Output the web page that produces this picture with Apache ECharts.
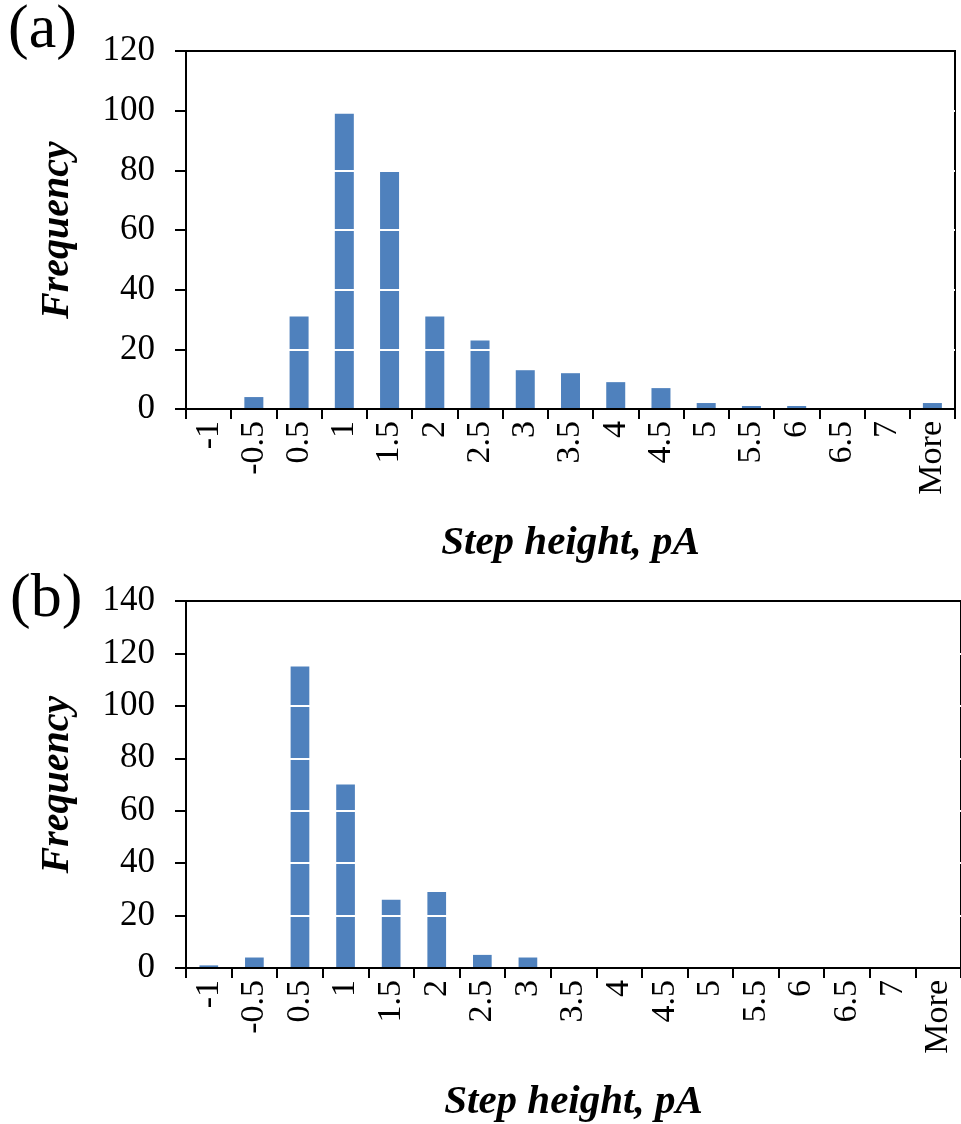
<!DOCTYPE html>
<html>
<head>
<meta charset="utf-8">
<script src="https://cdn.jsdelivr.net/npm/echarts@6/dist/echarts.min.js"></script>
<style>
html,body{margin:0;padding:0;background:#fff;}
#chart{width:961px;height:1124px;}
</style>
</head>
<body>
<div id="chart"></div>
<script>
// ---- data ----
const categories = ['-1','-0.5','0.5','1','1.5','2','2.5','3','3.5','4','4.5','5','5.5','6','6.5','7','More'];
const freqA = [0,4,31,99,80,31,23,13,12,9,7,2,1,1,0,0,2];
const freqB = [1,4,115,70,26,29,5,4,0,0,0,0,0,0,0,0,0];
const yMaxA = 120, yMaxB = 140, yStep = 20;
const panelLabels = ['(a)','(b)'];
const xTitle = 'Step height, pA';
const yTitle = 'Frequency';

const FONT = '"Liberation Serif","Times New Roman",serif';
const BLUE = '#4F81BD';

function xAxisCfg(gridIndex){
  return {
    type:'category', gridIndex, data:categories, boundaryGap:true, z:4,
    axisLine:{lineStyle:{color:'#000',width:2}},
    axisTick:{show:true,interval:0,length:10,lineStyle:{color:'#000',width:2}},
    axisLabel:{interval:0,rotate:90,margin:12,color:'#000',fontFamily:FONT,fontSize:34},
    name:xTitle, nameLocation:'middle', nameGap:114,
    nameTextStyle:{fontFamily:FONT,fontSize:41,fontWeight:'bold',fontStyle:'italic',color:'#000'}
  };
}
function yAxisCfg(gridIndex,max){
  return {
    type:'value', gridIndex, min:0, max, interval:yStep, z:3,
    axisLine:{show:true,lineStyle:{color:'#000',width:2}},
    axisTick:{show:true,length:11,lineStyle:{color:'#000',width:2}},
    axisLabel:{margin:31,color:'#000',fontFamily:FONT,fontSize:35},
    splitLine:{show:true,showMinLine:false,showMaxLine:false,lineStyle:{color:'#fff',width:2}},
    name:yTitle, nameLocation:'middle', nameGap:108,
    nameTextStyle:{fontFamily:FONT,fontSize:40,fontWeight:'bold',fontStyle:'italic',color:'#000'}
  };
}

const chart = echarts.init(document.getElementById('chart'), null, {renderer:'canvas'});
chart.setOption({
  backgroundColor:'#fff',
  animation:false,
  grid:[
    {left:186, top:51, width:769, height:358, show:true, borderColor:'#000', borderWidth:2, backgroundColor:'transparent'},
    {left:186, top:601, width:783, height:371, show:true, borderColor:'#000', borderWidth:2, backgroundColor:'transparent'}
  ],
  xAxis:[xAxisCfg(0), xAxisCfg(1)],
  yAxis:[yAxisCfg(0,yMaxA), yAxisCfg(1,yMaxB)],
  graphic:[
    {type:'text', left:8, top:0, style:{text:panelLabels[0], font:'62px '+FONT, fill:'#000'}},
    {type:'text', left:10, top:569, style:{text:panelLabels[1], font:'62px '+FONT, fill:'#000'}}
  ],
  series:[
    {type:'bar', xAxisIndex:0, yAxisIndex:0, data:freqA, barWidth:'42%', itemStyle:{color:BLUE}, z:2},
    {type:'bar', xAxisIndex:1, yAxisIndex:1, data:freqB, barWidth:'41%', itemStyle:{color:BLUE}, z:2}
  ]
});
</script>
</body>
</html>
